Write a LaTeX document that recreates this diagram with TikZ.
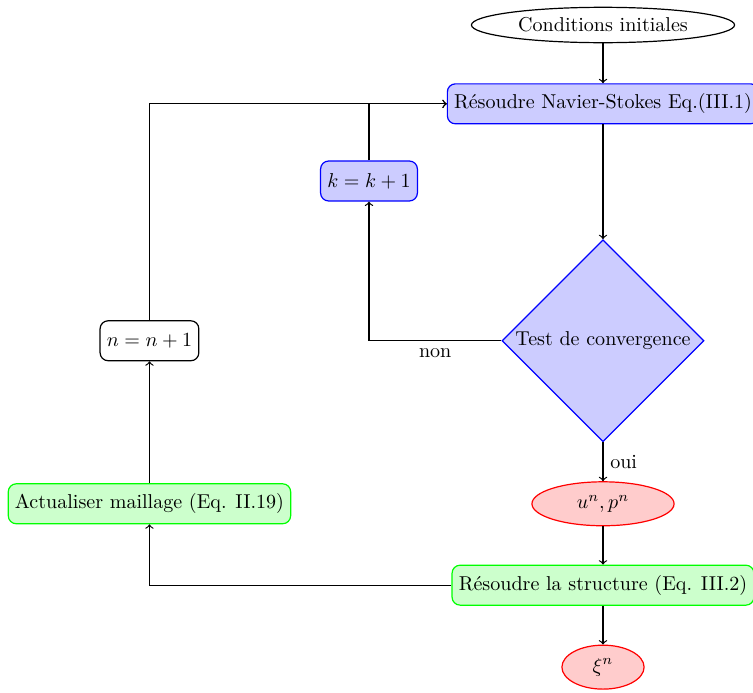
\documentclass[tikz,border=0pt]{standalone}
\usetikzlibrary{positioning,shapes.geometric}

\begin{document}
\begin{tikzpicture}[node distance=0.7cm,semithick,
  debut/.style={draw,ellipse,inner sep=0pt,minimum width=4.61cm,minimum height=0.62cm},
  calcul/.style={draw=blue,fill=blue!20,rounded corners,minimum height=0.7cm},
  solide/.style={draw=green,fill=green!20,rounded corners,minimum height=0.7cm},
  incr/.style={draw,rounded corners,minimum height=0.7cm},
  resultat/.style={draw=red,fill=red!20,ellipse,inner sep=0pt,minimum height=0.77cm},
  decision/.style={draw=blue,fill=blue!20,diamond,aspect=1,inner sep=0pt,minimum size=3.54cm}]
\useasboundingbox (-10.565,0.438) rectangle (2.628,-11.70);
\node[debut] (ini) at (0,0) {Conditions initiales};
\node[calcul,below=of ini] (ns) {R\'esoudre Navier-Stokes Eq.(III.1)};
\node[decision,below=2.01cm of ns] (conv) {Test de convergence};
\node[resultat,minimum width=2.49cm,below=0.68cm of conv] (up) {$u^n,p^n$};
\node[solide,below=0.67cm of up] (struct) {R\'esoudre la structure (Eq. III.2)};
\node[resultat,minimum width=1.44cm,below=0.68cm of struct] (xi) {$\xi^n$};
\node[calcul] (k) at (-4.10,-2.733) {$k=k+1$};
\node[incr,left=5.29cm of conv] (n) {$n=n+1$};
\node[solide] (maill) at (n |- up) {Actualiser maillage (Eq. II.19)};
\draw[->] (ini) -- (ns);
\draw[->] (ns) -- (conv);
\draw[->] (conv) -- node[right]{oui} (up);
\draw[->] (up) -- (struct);
\draw[->] (struct) -- (xi);
\draw[->] (conv.west) -| node[pos=0.25,below]{non} (k);
\draw[->] (k) |- (ns.west);
\draw[->] (struct.west) -| (maill);
\draw[->] (maill) -- (n);
\draw[->] (n) |- (ns.west);
\end{tikzpicture}
\end{document}
